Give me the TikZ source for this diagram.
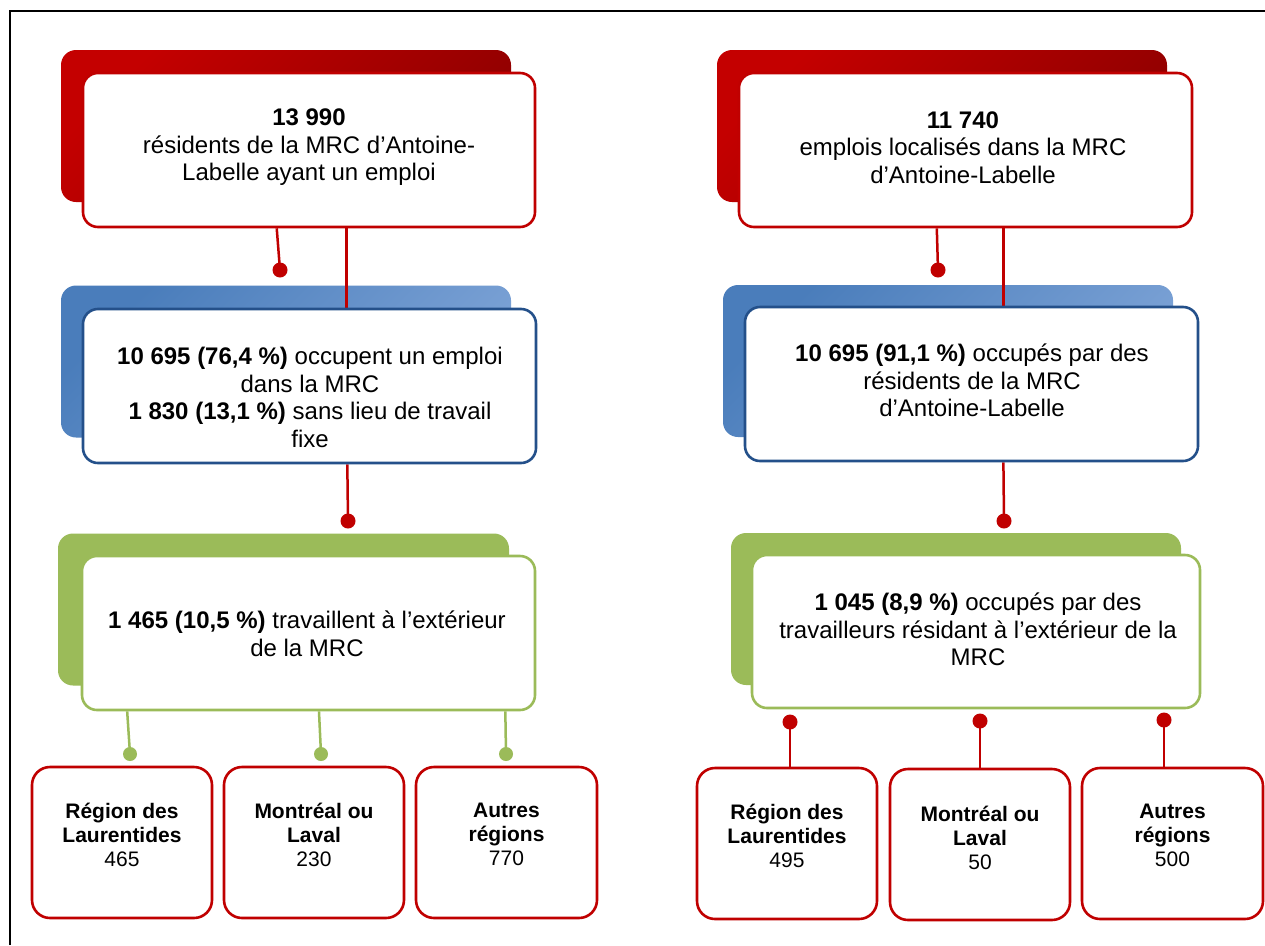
\documentclass[tikz,border=0pt]{standalone}
\usepackage{fontspec}
\setmainfont{Liberation Sans}
\usetikzlibrary{calc}
\definecolor{rline}{HTML}{C00000}
\definecolor{redA}{HTML}{C40000}
\definecolor{redB}{HTML}{8E0000}
\definecolor{blueA}{HTML}{4A7DBB}
\definecolor{blueB}{HTML}{7EA4D7}
\definecolor{bline}{HTML}{24508A}
\definecolor{gfill}{HTML}{9BBB59}
\pgfdeclarelayer{tablayer}
\pgfdeclarelayer{linelayer}
\pgfsetlayers{tablayer,linelayer,main}
\tikzset{
  tabshape/.style={rectangle, rounded corners=15, inner sep=0, minimum width=450, minimum height=152},
  tabred/.style={tabshape, top color=redA, bottom color=redB, shading angle=45},
  tabblue/.style={tabshape, top color=blueA, bottom color=blueB, shading angle=45},
  tabgreen/.style={tabshape, fill=gfill},
  front/.style={rectangle, rounded corners=15, inner sep=0, fill=white, line width=2.6, minimum width=452, minimum height=154},
  frontred/.style={front, draw=rline},
  frontblue/.style={front, draw=bline},
  frontgreen/.style={front, draw=gfill},
  regbox/.style={rectangle, rounded corners=18, draw=rline, line width=2.6, fill=white, inner sep=0, minimum width=180, minimum height=151},
  txt/.style={align=center, inner sep=0, font=\fontsize{24}{27.5}\selectfont},
  stxt/.style={align=center, inner sep=0, font=\fontsize{21}{24}\selectfont},
  conr/.style={draw=rline, line width=2.5},
  cong/.style={draw=gfill, line width=2.5},
  dotred/.style={circle, fill=rline, inner sep=0, minimum size=15},
  dotgreen/.style={circle, fill=gfill, inner sep=0, minimum size=14},
}
\begin{document}
\begin{tikzpicture}[x=1pt,y=-1pt]
\useasboundingbox (0,0) rectangle (1265,945);
\begin{pgfonlayer}{tablayer}
\fill[white] (0,0) rectangle (1265,945);
\draw[line width=2] (10,945) -- (10,11) -- (1265,11);
% back tabs
\node[tabred] (ta1) at (286,126) {};
\node[tabblue] (tb1) at (286,361.5) {};
\node[tabgreen, minimum width=451] (tg1) at (283.5,609.5) {};
\node[tabred] (ta2) at (942,126) {};
\node[tabblue] (tb2) at (948,361) {};
\node[tabgreen] (tg2) at (956,609) {};
\end{pgfonlayer}

% front boxes (shapes)
\node[frontred] (t1) at (309,150) {};
\node[frontblue, minimum width=453] (b1) at (309.5,386) {};
\node[frontgreen, minimum width=453] (g1) at (308.5,633) {};
\node[frontred, minimum width=453] (t2) at (965.5,150) {};
\node[frontblue, minimum width=453] (b2) at (971.5,384) {};
\node[frontgreen, minimum width=448, minimum height=153] (g2) at (976,631.5) {};

% bottom boxes
\node[regbox] (L1) at (122,842.5) {};
\node[regbox] (L2) at (314,842.5) {};
\node[regbox, minimum width=181] (L3) at (506.5,842.5) {};
\node[regbox] (R1) at (787,843.5) {};
\node[regbox] (R2) at (980,844.5) {};
\node[regbox, minimum width=181] (R3) at (1172.5,843.5) {};

% dots
\node[dotred] (d1) at (280,270) {};
\node[dotred] (d2) at (348,521) {};
\node[dotred] (d3) at (938,270) {};
\node[dotred] (d4) at (1004,521) {};
\node[dotgreen] (gd1) at (130,754) {};
\node[dotgreen] (gd2) at (321,754) {};
\node[dotgreen] (gd3) at (506,754) {};
\node[dotred] (rd1) at (790,722) {};
\node[dotred] (rd2) at (980,721) {};
\node[dotred] (rd3) at (1164,720) {};

% connectors
\begin{pgfonlayer}{linelayer}
\draw[conr] ($(t1.south west)!0.429!(t1.south east)$) -- (d1.center);
\draw[conr] ($(t1.south west)!0.582!(t1.south east)$) coordinate (c1) -- (c1 |- b1.north);
\draw[conr] ($(b1.south west)!0.583!(b1.south east)$) -- (d2.center);
\draw[conr] ($(t2.south west)!0.437!(t2.south east)$) -- (d3.center);
\draw[conr] ($(t2.south west)!0.583!(t2.south east)$) coordinate (c2) -- (c2 |- b2.north);
\draw[conr] ($(b2.south west)!0.570!(b2.south east)$) -- (d4.center);
\draw[cong] ($(g1.south west)!0.102!(g1.south east)$) -- (gd1.center);
\draw[cong] ($(g1.south west)!0.523!(g1.south east)$) -- (gd2.center);
\draw[cong] ($(g1.south west)!0.932!(g1.south east)$) -- (gd3.center);
\draw[conr] (rd1.center) -- (rd1 |- R1.north);
\draw[conr] (rd2.center) -- (rd2 |- R2.north);
\draw[conr] (rd3.center) -- (rd3 |- R3.north);
\end{pgfonlayer}

% texts
\node[txt] (t1x) at (309,147.5) {\textbf{13 990}\\résidents de la MRC d’Antoine-\\Labelle ayant un emploi};
\node[txt] (b1x) at (310,397.5) {\textbf{10 695 (76,4 \%)} occupent un emploi\\dans la MRC\\\textbf{1 830 (13,1 \%)} sans lieu de travail\\fixe};
\node[txt] (g1x) at (307,634) {\textbf{1 465 (10,5 \%)} travaillent à l’extérieur\\de la MRC};
\node[txt] (t2x) at (963,147.5) {\textbf{11 740}\\emplois localisés dans la MRC\\d’Antoine-Labelle};
\node[txt] (b2x) at (972,380.5) {\textbf{10 695 (91,1 \%)} occupés par des\\résidents de la MRC\\d’Antoine-Labelle};
\node[txt] (g2x) at (978,629.5) {\textbf{1 045 (8,9 \%)} occupés par des\\travailleurs résidant à l’extérieur de la\\MRC};

\node[stxt] (L1x) at (122,834.5) {\textbf{Région des}\\\textbf{Laurentides}\\465};
\node[stxt] (L2x) at (314,834.5) {\textbf{Montréal ou}\\\textbf{Laval}\\230};
\node[stxt] (L3x) at (506.5,834.5) {\textbf{Autres}\\\textbf{régions}\\770};
\node[stxt] (R1x) at (787,835.5) {\textbf{Région des}\\\textbf{Laurentides}\\495};
\node[stxt] (R2x) at (980,837.5) {\textbf{Montréal ou}\\\textbf{Laval}\\50};
\node[stxt] (R3x) at (1172.5,835.5) {\textbf{Autres}\\\textbf{régions}\\500};
\end{tikzpicture}
\end{document}
